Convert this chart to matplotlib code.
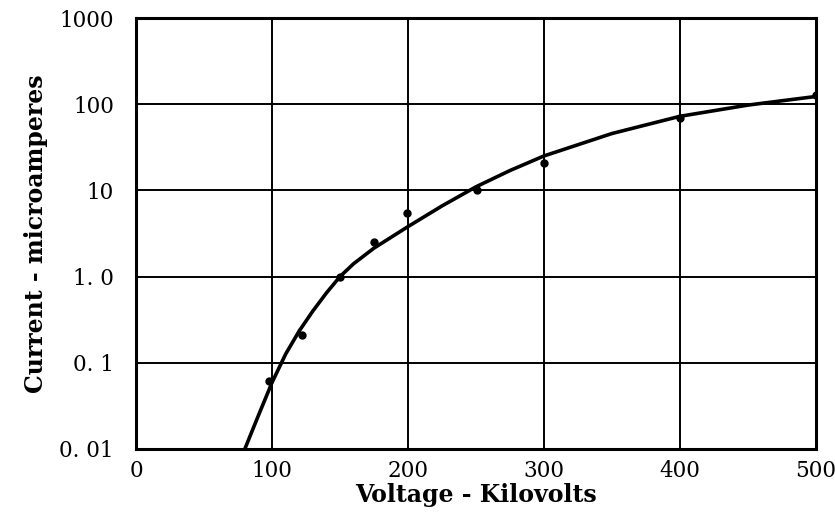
import matplotlib.pyplot as plt
from matplotlib.ticker import FixedLocator, FixedFormatter, NullLocator

# measured points (kV, microamperes)
volts = [98, 122, 150, 175, 199, 251, 300, 400, 500]
current = [0.062, 0.21, 1.0, 2.5, 5.5, 10.0, 21, 69, 127]

# fitted curve as drawn
curve_v = [80, 90, 100, 110, 120, 130, 140, 150, 160, 175, 200, 225, 250, 275, 300, 350, 400, 450, 500]
curve_i = [0.01, 0.0245, 0.059, 0.126, 0.234, 0.398, 0.646, 1.0, 1.41, 2.14, 3.8, 6.6, 11.0, 17.0, 25.1, 45.7, 72.4, 97.7, 123]

x_ticks = [0, 100, 200, 300, 400, 500]
y_ticks = [0.01, 0.1, 1.0, 10, 100, 1000]
y_labels = ['0. 01', '0. 1', '1. 0', '10', '100', '1000']

plt.rcParams['font.family'] = ['DejaVu Serif']

fig = plt.figure(figsize=(8.35, 5.16), dpi=100)
ax = fig.add_axes([0.163, 0.130, 0.814, 0.835])

ax.set_yscale('log')
ax.set_xlim(0, 500)
ax.set_ylim(0.01, 1000)

ax.plot(curve_v, curve_i, color='black', lw=2.6, solid_capstyle='round', solid_joinstyle='round')
ax.plot(volts, current, 'o', color='black', markersize=5)

ax.xaxis.set_major_locator(FixedLocator(x_ticks))
ax.yaxis.set_major_locator(FixedLocator(y_ticks))
ax.yaxis.set_major_formatter(FixedFormatter(y_labels))
ax.yaxis.set_minor_locator(NullLocator())
ax.tick_params(length=0, labelsize=15.5)
ax.tick_params(axis='x', pad=8)
ax.tick_params(axis='y', pad=16)

ax.grid(True, color='black', lw=1.4)
for s in ax.spines.values():
    s.set_linewidth(2.2)

ax.set_xlabel('Voltage - Kilovolts', fontsize=17, fontweight='bold', labelpad=1)
ax.set_ylabel('Current - microamperes', fontsize=17, fontweight='bold', labelpad=8)

fig.savefig('out.png', dpi=100)
